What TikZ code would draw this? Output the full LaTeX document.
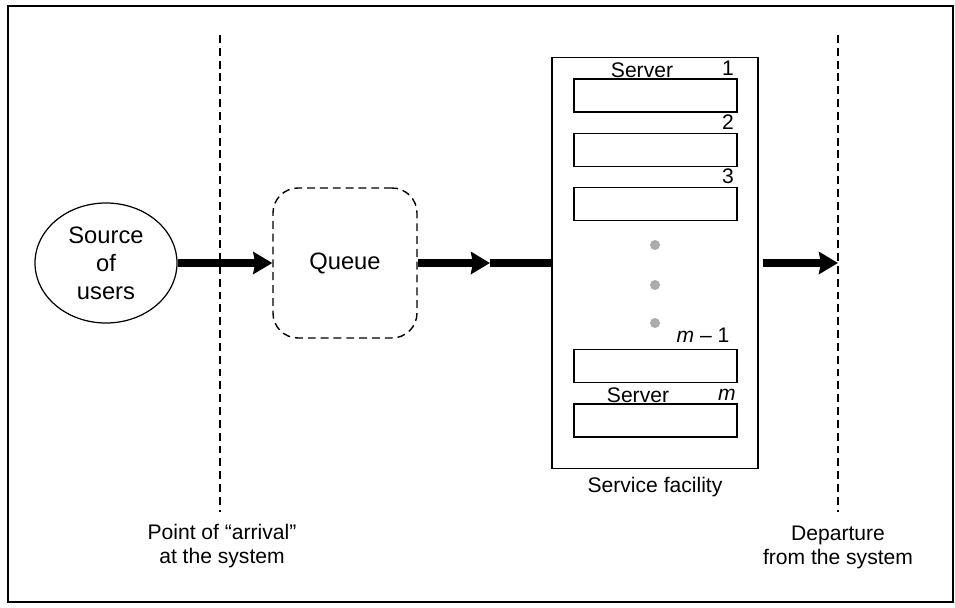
\documentclass[tikz,border=0pt]{standalone}
\usepackage{fontspec}
\setmainfont{Liberation Sans}
\usetikzlibrary{arrows.meta,positioning,shapes.geometric}

\begin{document}
\begin{tikzpicture}[x=1cm,y=1cm,
  every node/.style={inner sep=0pt}]
  \tikzset{
    frame/.style={draw=black,line width=1pt},
    boundary/.style={draw=black,line width=0.8pt,
      dash pattern=on 4.5pt off 2.8pt},
    users/.style={ellipse,draw=black,line width=0.7pt,
      minimum width=2.84cm,minimum height=2.4cm,align=center,
      font=\fontsize{13.5}{15.9}\selectfont},
    waitline/.style={rectangle,rounded corners=0.5cm,draw=black,
      line width=0.8pt,dash pattern=on 4.5pt off 2.8pt,
      minimum width=2.88cm,minimum height=3.0cm,
      font=\fontsize{13.5}{15.9}\selectfont},
    facilitybox/.style={rectangle,draw=black,line width=0.8pt,
      minimum width=4.12cm,minimum height=8.22cm},
    serverbox/.style={rectangle,draw=black,line width=0.8pt,
      minimum width=3.26cm,minimum height=0.66cm},
    serverlabel/.style={font=\fontsize{12}{13.7}\selectfont},
    caption/.style={font=\fontsize{12}{13.7}\selectfont,align=center},
    waitdot/.style={circle,fill=gray!65,minimum size=0.2cm},
    flow/.style={line width=4pt,
      -{Stealth[length=0.38cm,width=0.44cm,inset=0.04cm]}},
    flowline/.style={line width=4pt}
  }

  \useasboundingbox (0,0) rectangle (19.1,12.14);
  \draw[frame] (0.16,0.10) rectangle (19.06,12.02);

  % boundaries of the system
  \coordinate (arr-top) at (4.40,11.44);
  \coordinate (arr-bot) at (4.40,1.90);
  \coordinate (dep-top) at (16.76,11.44);
  \coordinate (dep-bot) at (16.76,1.90);
  \draw[boundary] (arr-top) -- (arr-bot);
  \draw[boundary] (dep-top) -- (dep-bot);
  \node[caption] (arr-label) at (4.44,1.22)
    {Point of “arrival”\\at the system};
  \node[caption] (dep-label) at (16.76,1.20)
    {Departure\\from the system};

  % source and queue
  \node[users] (source) at (2.12,6.88) {Source\\of\\users};
  \node[waitline] (queue) at (6.90,6.88) {Queue};
  \draw[flow] (source.east) -- (queue.west);

  % service facility
  \node[facilitybox] (facility) at (13.10,6.88) {};
  \node[caption] (facility-label) at (13.10,2.40) {Service facility};
  \coordinate (queue-mid) at (9.80,6.88);
  \draw[flow] (queue.east) -- (queue-mid);
  \draw[flowline] (queue-mid) -- (facility.west);

  % servers
  \node[serverbox] (srv-1) at (13.11,10.23) {};
  \node[serverbox] (srv-2) at (13.11,9.14) {};
  \node[serverbox] (srv-3) at (13.11,8.06) {};
  \node[serverbox] (srv-m1) at (13.11,4.82) {};
  \node[serverbox] (srv-m) at (13.11,3.73) {};
  \node[serverlabel] (lbl-srv-1) at (12.84,10.74) {Server};
  \node[serverlabel] (lbl-1) at (14.56,10.78) {1};
  \node[serverlabel] (lbl-2) at (14.56,9.70) {2};
  \node[serverlabel] (lbl-3) at (14.56,8.62) {3};
  \node[serverlabel] (lbl-m1) at (14.06,5.44) {\textit{m} – 1};
  \node[serverlabel] (lbl-srv-m) at (12.76,4.24) {Server};
  \node[serverlabel] (lbl-m) at (14.54,4.24) {\textit{m}};
  \node[waitdot] (dot-1) at (13.10,7.24) {};
  \node[waitdot] (dot-2) at (13.10,6.44) {};
  \node[waitdot] (dot-3) at (13.10,5.68) {};

  % departure
  \coordinate (dep-mid) at (16.76,6.88);
  \draw[flow,shorten <=0.08cm] (facility.east) -- (dep-mid);
\end{tikzpicture}
\end{document}
